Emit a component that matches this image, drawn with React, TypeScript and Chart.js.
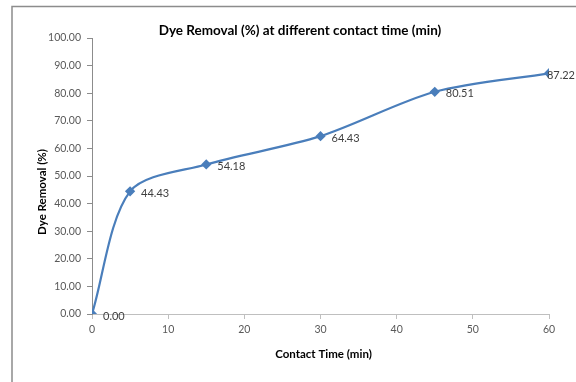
import React, { useEffect, useRef } from "react";
import { Chart, registerables } from "chart.js";

Chart.register(...registerables);

const contactTimes = [0, 5, 15, 30, 45, 60];
const dyeRemoval = [0.0, 44.43, 54.18, 64.43, 80.51, 87.22];
const chartTitle = "Dye Removal (%) at different contact time (min)";
const xTitle = "Contact Time (min)";
const yTitle = "Dye Removal (%)";

const FONT = "Lato, 'Open Sans', sans-serif";
const LINE = "#4A7EBB";

const framePlugin = {
  id: "frame",
  beforeDraw(chart: any) {
    const { ctx, width, height } = chart;
    ctx.save();
    ctx.fillStyle = "#ffffff";
    ctx.fillRect(0, 0, width, height);
    ctx.strokeStyle = "#8c8c8c";
    ctx.lineWidth = 1.5;
    ctx.beginPath();
    ctx.moveTo(12, height + 2);
    ctx.lineTo(12, 6.5);
    ctx.lineTo(width + 2, 6.5);
    ctx.stroke();
    ctx.restore();
  },
};

const textPlugin = {
  id: "texts",
  afterDatasetsDraw(chart: any) {
    const { ctx, chartArea, width } = chart;
    const meta = chart.getDatasetMeta(0);
    ctx.save();
    // data labels
    ctx.font = `11px ${FONT}`;
    ctx.fillStyle = "#404040";
    ctx.textAlign = "left";
    ctx.textBaseline = "middle";
    meta.data.forEach((pt: any, i: number) => {
      const txt = dyeRemoval[i].toFixed(2);
      const w = ctx.measureText(txt).width;
      const x = Math.min(pt.x + 11, width - w - 1);
      ctx.fillText(txt, x, pt.y + 2);
    });
    // title
    ctx.fillStyle = "#000000";
    ctx.font = `bold 13.5px ${FONT}`;
    ctx.textAlign = "center";
    ctx.fillText(chartTitle, 300, 31);
    // x title
    ctx.font = `bold 11.5px ${FONT}`;
    ctx.fillText(xTitle, (chartArea.left + chartArea.right) / 2 + 3, 354);
    // y title
    ctx.translate(42, (chartArea.top + chartArea.bottom) / 2 + 16);
    ctx.rotate(-Math.PI / 2);
    ctx.fillText(yTitle, 0, 0);
    ctx.restore();
  },
};

export default function App() {
  const ref = useRef<HTMLCanvasElement>(null);
  useEffect(() => {
    document.body.style.margin = "0";
    const chart = new Chart(ref.current!, {
      type: "scatter",
      data: {
        datasets: [
          {
            data: contactTimes.map((x, i) => ({ x, y: dyeRemoval[i] })),
            showLine: true,
            borderColor: LINE,
            backgroundColor: LINE,
            borderWidth: 2.2,
            tension: 0.3,
            pointStyle: "rectRot",
            pointRadius: 3.6,
            pointHoverRadius: 3.6,
          },
        ],
      },
      options: {
        responsive: false,
        animation: false,
        events: [],
        layout: { padding: { left: 0, top: 38, right: 27, bottom: 0 } },
        plugins: {
          legend: { display: false },
          tooltip: { enabled: false },
          title: { display: false },
        },
        scales: {
          x: {
            type: "linear",
            min: 0,
            max: 60,
            ticks: {
              stepSize: 10,
              color: "#595959",
              font: { family: FONT, size: 10.5 },
              padding: 4,
              maxRotation: 0,
            },
            grid: {
              display: true,
              drawOnChartArea: false,
              drawTicks: true,
              tickLength: 5,
              color: "#bfbfbf",
            },
            border: { display: true, color: "#bfbfbf", width: 1 },
            afterFit: (s: any) => {
              s.height = 68;
            },
          },
          y: {
            type: "linear",
            min: 0,
            max: 100,
            ticks: {
              stepSize: 10,
              color: "#595959",
              font: { family: FONT, size: 10.5 },
              padding: 6,
              callback: (v: any) => Number(v).toFixed(2),
            },
            grid: {
              display: true,
              drawOnChartArea: false,
              drawTicks: true,
              tickLength: 5,
              color: "#8c8c8c",
            },
            border: { display: true, color: "#8c8c8c", width: 1 },
            afterFit: (s: any) => {
              s.width = 92;
            },
          },
        },
      },
      plugins: [framePlugin, textPlugin],
    });
    return () => chart.destroy();
  }, []);
  return <canvas ref={ref} width={576} height={382} style={{ display: "block" }} />;
}
